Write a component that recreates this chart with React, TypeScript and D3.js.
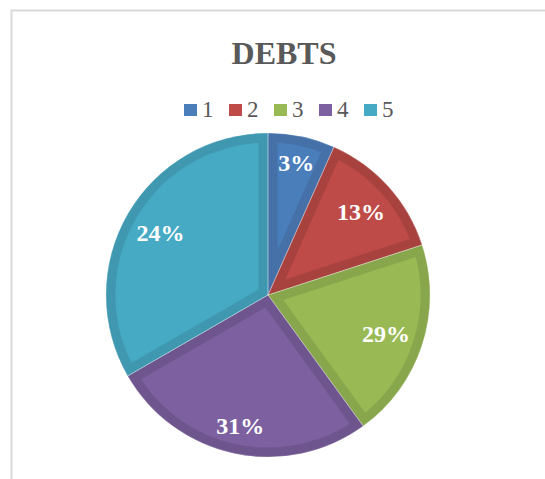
import React from "react";
import * as d3 from "d3";

// chart data
const categories = ["1", "2", "3", "4", "5"];
const values = [1, 2, 3, 4, 5];
const labels = ["3%", "13%", "29%", "31%", "24%"];
const fills = ["#4a7ebb", "#be4b48", "#98b954", "#7d60a0", "#46aac5"];
const borders = ["#4571a8", "#a8423f", "#88a64b", "#6e558e", "#3f98b0"];

const width = 545;
const height = 479;
const cx = 268;
const cy = 295;
const radius = 162;
const labelFont = 24;

// rough bold serif text width
const textWidth = (s: string) =>
  s.split("").reduce((w, ch) => w + (ch === "%" ? 1.0 : 0.5), 0) * labelFont;

// put label box just inside the outer edge of the slice
const labelRadius = (angle: number, w: number, h: number, reach: number) => {
  const s = Math.abs(Math.sin(angle));
  const c = Math.abs(Math.cos(angle));
  const b = s * w + c * h;
  const c0 = (w * w + h * h) / 4 - reach * reach;
  return (-b + Math.sqrt(b * b - 4 * c0)) / 2;
};

const App = () => {
  const pie = d3
    .pie<number>()
    .sort(null)
    .value((d) => d);
  const arcs = pie(values);
  const arc = d3.arc<d3.PieArcDatum<number>>().innerRadius(0).outerRadius(radius);

  const legendX = d3.scalePoint().domain(categories).range([184, 364]);

  return (
    <svg
      width={width}
      height={height}
      style={{ display: "block", position: "absolute", left: 0, top: 0 }}
    >
      <rect width={width} height={height} fill="#ffffff" />
      <rect x={11.5} y={10.5} width={width + 20} height={height + 20} fill="none" stroke="#d9d9d9" strokeWidth={2} />

      <text
        x={284}
        y={64}
        textAnchor="middle"
        fontFamily="'Liberation Serif', serif"
        fontWeight="bold"
        fontSize={32}
        fill="#595959"
      >
        DEBTS
      </text>

      <g fontFamily="'Liberation Serif', serif" fontSize={23} fill="#595959">
        {categories.map((c, i) => (
          <g key={c} transform={`translate(${legendX(c)},0)`}>
            <rect x={0} y={104} width={13} height={12} fill={fills[i]} />
            <text x={18} y={117}>
              {c}
            </text>
          </g>
        ))}
      </g>

      <defs>
        {arcs.map((a, i) => (
          <clipPath key={i} id={`slice-${i}`}>
            <path d={arc(a) || ""} />
          </clipPath>
        ))}
      </defs>

      <g transform={`translate(${cx},${cy})`}>
        {arcs.map((a, i) => (
          <path
            key={i}
            d={arc(a) || ""}
            fill={fills[i]}
            stroke={borders[i]}
            strokeWidth={19}
            strokeLinejoin="miter"
            clipPath={`url(#slice-${i})`}
          />
        ))}
        {arcs.map((a, i) => (
          <path key={"s" + i} d={arc(a) || ""} fill="none" stroke="#ffffff" strokeOpacity={0.35} strokeWidth={0.8} />
        ))}
        {arcs.map((a, i) => {
          const mid = (a.startAngle + a.endAngle) / 2;
          const w = textWidth(labels[i]);
          const r = labelRadius(mid, w, 20, radius - 12);
          return (
            <text
              key={"l" + i}
              x={r * Math.sin(mid)}
              y={-r * Math.cos(mid)}
              dy="0.35em"
              textAnchor="middle"
              fontFamily="'Liberation Serif', serif"
              fontWeight="bold"
              fontSize={labelFont}
              fill="#ffffff"
            >
              {labels[i]}
            </text>
          );
        })}
      </g>
    </svg>
  );
};

export default App;
